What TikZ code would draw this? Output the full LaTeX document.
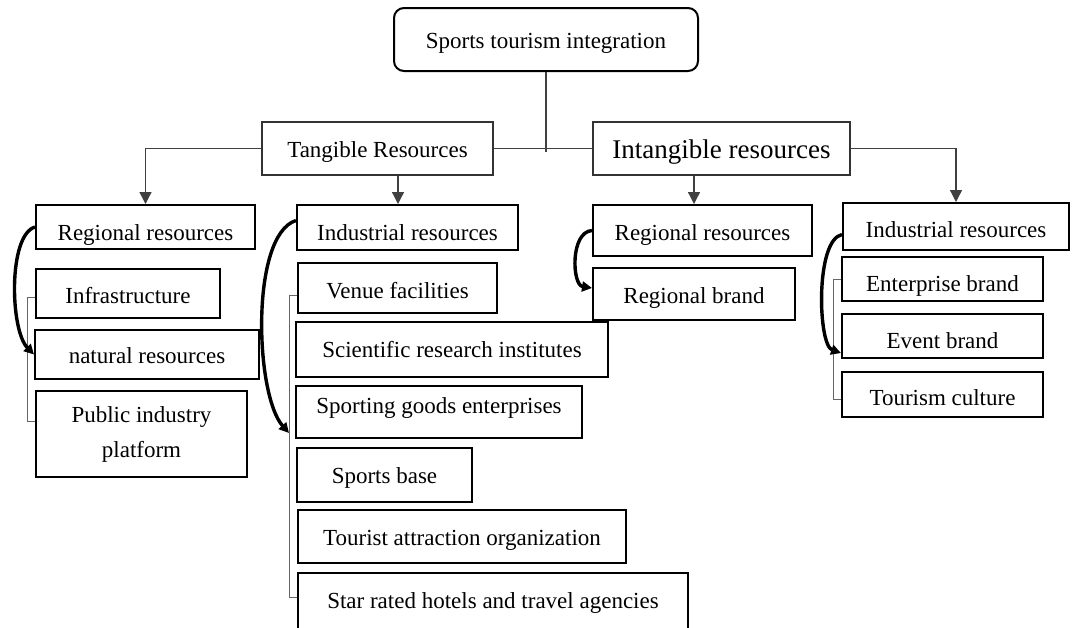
\documentclass[tikz,border=0pt]{standalone}
\usepackage{fontspec}
\setmainfont{Liberation Serif}
\usetikzlibrary{arrows.meta,calc}
\begin{document}
\begin{tikzpicture}[x=1pt,y=-1pt,
  box/.style={draw, line width=2pt, inner sep=0pt, font=\fontsize{23}{27}\selectfont},
  thinbox/.style={draw=black!80, line width=1.2pt, inner sep=0pt},
  tb/.style={text height=#1pt, text depth=0pt},
  conn/.style={draw=black!75, line width=1.3pt},
  arr/.style={conn, -{Triangle[width=12pt,length=12pt]}},
  curvearr/.style={draw=black, line width=3.4pt, -{Triangle[width=10pt,length=10pt]}},
  bracket/.style={draw=black!60, line width=1pt}]
\useasboundingbox (0,0) rectangle (1078,627);
% top
\node[box, tb=17, rounded corners=10pt, minimum width=304pt, minimum height=63pt] (top) at (546,39.5) {Sports tourism integration};
\node[thinbox, tb=17, minimum width=231pt, minimum height=53pt, font=\fontsize{23}{27}\selectfont] (tang) at (377.5,148.5) {Tangible Resources};
\node[thinbox, tb=19, minimum width=257pt, minimum height=53pt, font=\fontsize{27}{32}\selectfont] (intang) at (721.5,148.5) {Intangible resources};
% level 2
\node[box, tb=26, minimum width=219pt, minimum height=44pt] (rl) at (145.5,227) {Regional resources};
\node[box, tb=25, minimum width=221pt, minimum height=45pt] (il) at (407.5,227.5) {Industrial resources};
\node[box, tb=19, minimum width=219pt, minimum height=51pt] (rr) at (702.5,230.5) {Regional resources};
\node[box, tb=22, minimum width=226pt, minimum height=47pt] (ir) at (956,226.5) {Industrial resources};
% left column
\node[box, tb=19, minimum width=184pt, minimum height=49pt] (inf) at (128,293.5) {Infrastructure};
\node[box, tb=17, minimum width=224pt, minimum height=49pt] (nr) at (147,354.5) {natural resources};
\node[box, minimum width=211pt, minimum height=86pt, align=center, font=\fontsize{23}{35}\selectfont] (pub) at (141.5,434) {Public industry\\platform};
% middle column
\node[box, tb=20, minimum width=199pt, minimum height=50pt] (ven) at (397.5,288) {Venue facilities};
\node[box, tb=15, minimum width=312pt, minimum height=55pt] (sci) at (452,349.5) {Scientific research institutes};
\node[box, tb=3, minimum width=286pt, minimum height=52pt] (sg) at (439,412) {Sporting goods enterprises};
\node[box, tb=16, minimum width=175pt, minimum height=54pt] (sb) at (384.5,475) {Sports base};
\node[box, tb=17, minimum width=328pt, minimum height=53pt] (ta) at (462,536.5) {Tourist attraction organization};
\node[box, tb=11, minimum width=390pt, minimum height=59pt] (star) at (493,602.5) {Star rated hotels and travel agencies};
% right columns
\node[box, tb=18.6, minimum width=202pt, minimum height=52pt] (rb) at (694,294) {Regional brand};
\node[box, tb=25, minimum width=201pt, minimum height=44pt] (eb) at (942.5,279) {Enterprise brand};
\node[box, tb=24.6, minimum width=201pt, minimum height=44pt] (ev) at (942.5,336) {Event brand};
\node[box, tb=21, minimum width=201pt, minimum height=45pt] (tc) at (942.5,394.5) {Tourism culture};
% helper coordinates
\coordinate (junc) at (546,152);
\coordinate (xa) at (398,0);
\coordinate (xb) at (694,0);
\coordinate (bxl) at (27,0);
\coordinate (bxm) at (289,0);
\coordinate (bxr) at (833,0);
% connectors
\draw[conn] (top.south) -- (junc);
\draw[conn] (tang.east) -- (intang.west);
\draw[arr] (tang.west) -| (rl.north);
\draw[arr] (tang.south -| xa) -- (il.north -| xa);
\draw[arr] (intang.south -| xb) -- (rr.north -| xb);
\draw[arr] (intang.east) -| (ir.north);
% brackets
\draw[bracket] ($(inf.west)+(0,3.5)$) -- ($(inf.west -| bxl)+(0,3.5)$) -- ($(pub.west -| bxl)+(0,-13)$) -- ($(pub.west)+(0,-13)$);
\draw[bracket] ($(ven.west)+(0,7)$) -- ($(ven.west -| bxm)+(0,7)$) -- ($(star.west -| bxm)+(0,-5.5)$) -- ($(star.west)+(0,-5.5)$);
\draw[bracket] (eb.west) -- (eb.west -| bxr) -- ($(tc.west -| bxr)+(0,4.5)$) -- ($(tc.west)+(0,4.5)$);
% curved arrows
\draw[curvearr] (rl.west) .. controls (8,235) and (10,330) .. (nr.west);
\draw[curvearr] ($(il.west)+(0,-7)$) .. controls (250,235) and (255,395) .. ($(sg.west)+(-6,21)$);
\draw[curvearr] (rr.west) .. controls (570,232) and (572,285) .. ($(rb.west)+(0,-6)$);
\draw[curvearr] ($(ir.west)+(0,8)$) .. controls (815,240) and (818,345) .. ($(ev.west)+(0,17)$);
\end{tikzpicture}
\end{document}
